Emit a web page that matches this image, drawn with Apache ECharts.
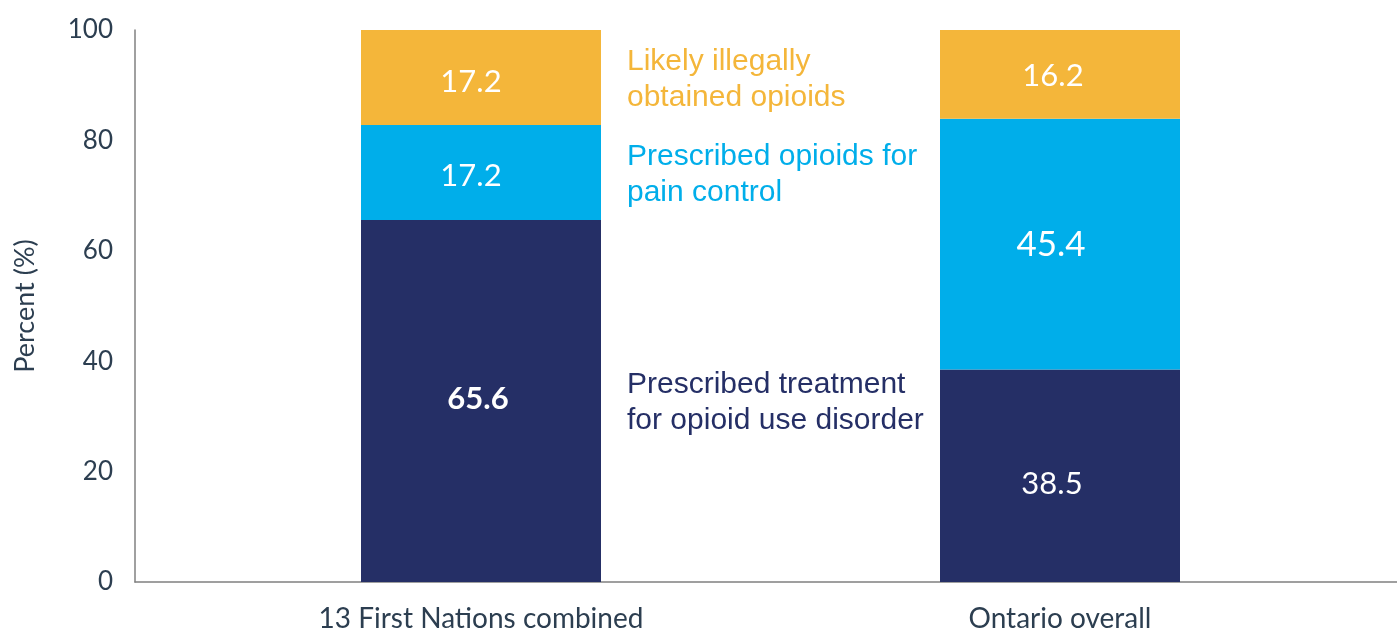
<!DOCTYPE html>
<html>
<head>
<meta charset="utf-8">
<script src="https://cdn.jsdelivr.net/npm/echarts@6/dist/echarts.min.js"></script>
<style>
  html, body { margin: 0; padding: 0; background: #ffffff; }
  #chart { width: 1397px; height: 631px; }
</style>
</head>
<body>
<div id="chart"></div>
<script>
// Source of opioids dispensed, by population
const categories = ['13 First Nations combined', 'Ontario overall'];
const treatmentOUD = [65.6, 38.5];
const painControl = [17.2, 45.4];
const illegal = [17.2, 16.2];
const seriesNames = [
  'Prescribed treatment\nfor opioid use disorder',
  'Prescribed opioids for\npain control',
  'Likely illegally\nobtained opioids'
];
const yTicks = { min: 0, max: 100, interval: 20 };

const colors = ['#252f66', '#00aeea', '#f4b63a'];
const axisText = '#2c3e50';
const axisGray = '#808080';

const valueLabelStyle = [
  // per series, per category label overrides
  [{ fontWeight: 'bold', fontSize: 31, offset: [-3, -2] }, { fontSize: 31, offset: [-8, 8] }],
  [{ fontSize: 31, offset: [-10, 4] }, { fontSize: 35, offset: [-9, 1] }],
  [{ fontSize: 31, offset: [-10, 5] }, { fontSize: 31, offset: [-7, 2] }]
];

const seriesValues = [treatmentOUD, painControl, illegal];

const barSeries = seriesValues.map((vals, s) => ({
  name: seriesNames[s],
  type: 'bar',
  stack: 'share',
  xAxisIndex: 1,
  yAxisIndex: 1,
  barWidth: 240,
  barGap: '-100%',
  itemStyle: { color: colors[s] },
  label: {
    show: true,
    position: 'inside',
    color: '#ffffff',
    fontFamily: 'Lato',
    fontSize: 31
  },
  data: vals.map((v, i) => ({ value: v, label: valueLabelStyle[s][i] }))
}));

// Transparent twin stack that carries the series names beside the first bar
const noteSeries = seriesValues.map((vals, s) => ({
  name: seriesNames[s] + ' ',
  type: 'bar',
  stack: 'notes',
  xAxisIndex: 1,
  yAxisIndex: 1,
  barWidth: 240,
  barGap: '-100%',
  silent: true,
  itemStyle: { color: 'rgba(0,0,0,0)' },
  label: {
    show: true,
    position: 'right',
    distance: 26,
    offset: [0, 2],
    align: 'left',
    verticalAlign: 'middle',
    color: colors[s],
    fontFamily: 'Liberation Sans',
    fontSize: 30,
    lineHeight: 36,
    formatter: (p) => (p.dataIndex === 0 ? seriesNames[s] : '')
  },
  data: vals.slice()
}));

const chart = echarts.init(document.getElementById('chart'), null, { renderer: 'canvas' });
chart.setOption({
  animation: false,
  backgroundColor: '#ffffff',
  grid: [
    { left: 135, right: 0, top: 30, bottom: 49, outerBoundsMode: 'none', containLabel: false },
    { left: 191.5, right: 47.5, top: 30, bottom: 49, outerBoundsMode: 'none', containLabel: false }
  ],
  xAxis: [
    {
      gridIndex: 0,
      type: 'value',
      min: 0,
      max: 1,
      axisLine: { show: true, lineStyle: { color: axisGray, width: 1.5 } },
      axisTick: { show: false },
      axisLabel: { show: false },
      splitLine: { show: false }
    },
    {
      gridIndex: 1,
      type: 'category',
      data: categories,
      axisLine: { show: false },
      axisTick: { show: false },
      axisLabel: {
        color: axisText,
        fontFamily: 'Lato',
        fontSize: 28,
        margin: 23,
        interval: 0
      }
    }
  ],
  yAxis: [
    {
      gridIndex: 0,
      type: 'value',
      min: yTicks.min,
      max: yTicks.max,
      interval: yTicks.interval,
      name: 'Percent (%)',
      nameLocation: 'middle',
      nameGap: 96,
      nameRotate: 90,
      nameTextStyle: { color: axisText, fontFamily: 'Lato', fontSize: 27 },
      axisLine: { show: true, lineStyle: { color: axisGray, width: 1.5 } },
      axisTick: { show: false },
      axisLabel: { color: axisText, fontFamily: 'Lato', fontSize: 26, margin: 22 },
      splitLine: { show: false }
    },
    {
      gridIndex: 1,
      type: 'value',
      min: yTicks.min,
      max: yTicks.max,
      show: false
    }
  ],
  series: barSeries.concat(noteSeries)
});
</script>
</body>
</html>
